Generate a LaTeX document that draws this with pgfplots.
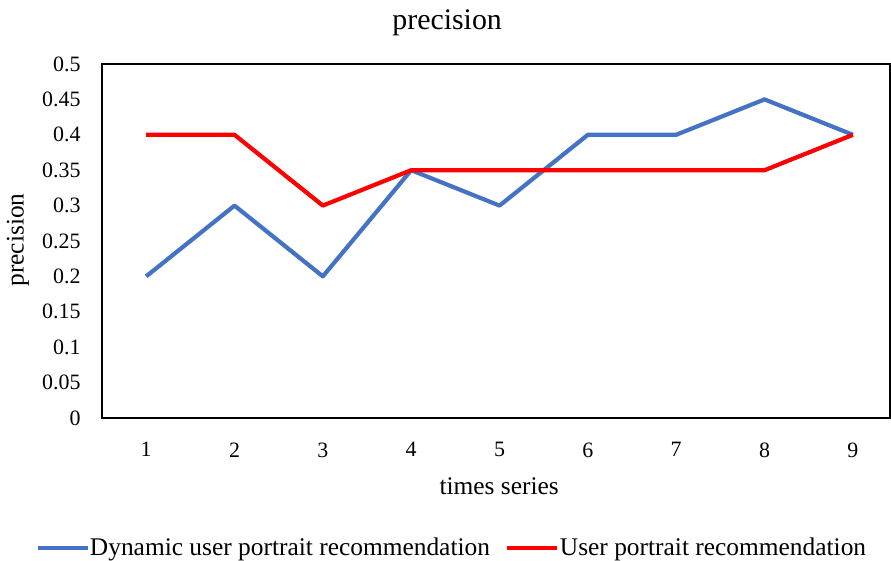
\documentclass[border=0pt]{standalone}
\usepackage{fontspec}
\setmainfont{Liberation Serif}
\usepackage{pgfplots}
\pgfplotsset{compat=1.18}

\definecolor{dynblue}{RGB}{68,114,196}
\definecolor{upred}{RGB}{255,0,0}

\begin{document}
\begin{tikzpicture}
  \begin{axis}[
    at={(102bp,143bp)}, anchor=south west,
    scale only axis,
    width=788bp, height=354bp,
    xmin=0.5, xmax=9.42,
    ymin=0, ymax=0.5,
    xtick={1,...,9},
    ytick={0,0.05,...,0.51},
    major tick length=0pt,
    axis line style={line width=1.5bp},
    /pgf/number format/assume math mode=true,
    yticklabel style={/pgf/number format/fixed, /pgf/number format/precision=2,
      font=\fontsize{22}{24}\selectfont, xshift=-18bp},
    xticklabel style={font=\fontsize{22}{24}\selectfont, yshift=-21bp},
    title={precision},
    title style={at={(rel axis cs:0.438,1.099)}, anchor=center,
      font=\fontsize{30}{32}\selectfont},
    xlabel={times series},
    xlabel style={at={(rel axis cs:0.504,-0.192)}, anchor=center,
      font=\fontsize{25.5}{28}\selectfont},
    ylabel={precision},
    ylabel style={at={(rel axis cs:-0.1066,0.503)}, anchor=center,
      font=\fontsize{25.5}{28}\selectfont},
    legend style={at={(rel axis cs:0.443,-0.367)}, anchor=center, draw=none,
      font=\fontsize{25.5}{28}\selectfont, legend columns=2,
      /tikz/every even column/.append style={column sep=15bp},
      inner sep=0pt, nodes={inner sep=0.5bp}},
    legend image code/.code={\draw[#1, line width=4bp] (0bp,0bp) -- (50bp,0bp);},
  ]
    \addplot[dynblue, line width=4.2bp, line join=round] coordinates {
      (1,0.2) (2,0.3) (3,0.2) (4,0.35) (5,0.3) (6,0.4) (7,0.4) (8,0.45) (9,0.4)};
    \addplot[upred, line width=4.2bp, line join=round] coordinates {
      (1,0.4) (2,0.4) (3,0.3) (4,0.35) (5,0.35) (6,0.35) (7,0.35) (8,0.35) (9,0.4)};
    \legend{Dynamic user portrait recommendation, User portrait recommendation}
  \end{axis}
  \pgfresetboundingbox
  \path (0,0) rectangle (891bp,561bp);
\end{tikzpicture}
\end{document}
